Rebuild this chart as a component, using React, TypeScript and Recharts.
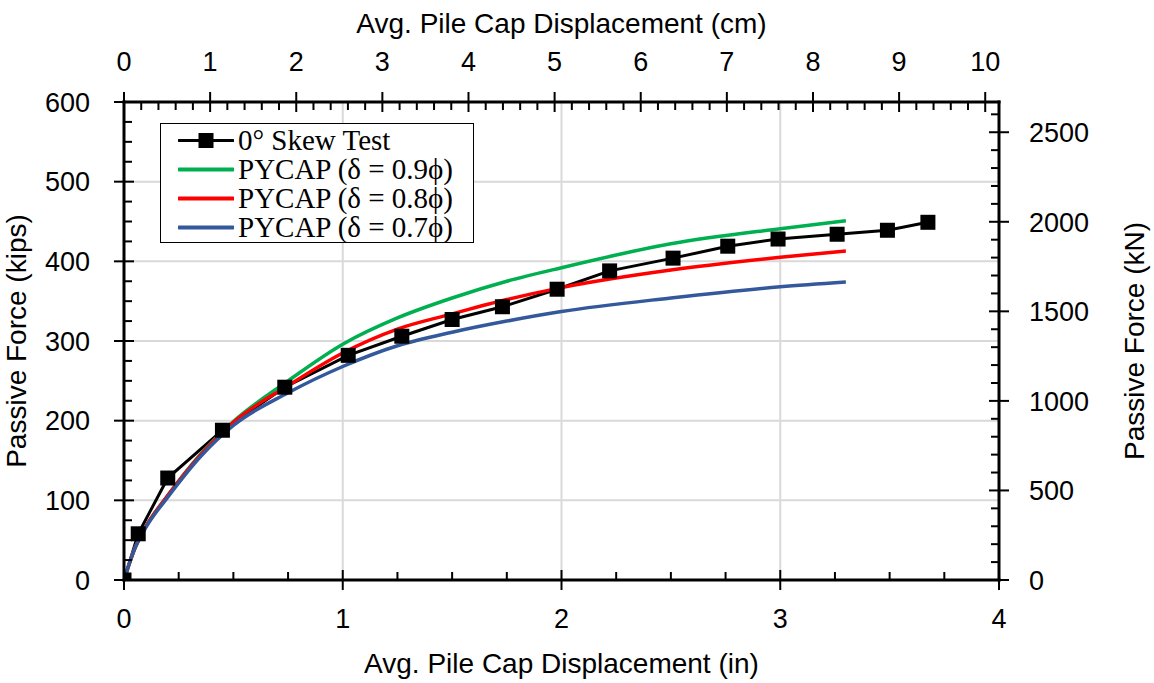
import React from "react";
import { LineChart, Line, XAxis, YAxis, CartesianGrid, Legend } from "recharts";

const IN_TO_CM = 2.54;
const KIPS_TO_KN = 4.448;

// 0° skew test, measured points (in, kips)
const testDisp = [0, 0.065, 0.2, 0.45, 0.735, 1.025, 1.27, 1.5, 1.73, 1.98, 2.22, 2.51, 2.76, 2.99, 3.26, 3.49, 3.675];
const testForce = [0, 58, 128, 188, 242, 282, 306, 327, 343, 365, 388, 404, 419, 428, 434, 439, 449];

// PYCAP predictions (in, kips)
const pycapDisp = [0, 0.05, 0.1, 0.2, 0.35, 0.5, 0.75, 1.0, 1.25, 1.5, 1.75, 2.0, 2.5, 3.0, 3.3];
const pycap09 = [0, 40, 67, 106, 158, 199, 250, 296, 329, 354, 375, 392, 422, 441, 451];
const pycap08 = [0, 40, 67, 106, 157, 198, 244, 285, 315, 334, 352, 367, 389, 405, 413];
const pycap07 = [0, 40, 66, 104, 155, 194, 235, 268, 294, 311, 325, 337, 354, 368, 374];

const seriesNames = ["0° Skew Test", "PYCAP (δ = 0.9ϕ)", "PYCAP (δ = 0.8ϕ)", "PYCAP (δ = 0.7ϕ)"];
const seriesColors = ["#000000", "#00B050", "#FF0000", "#34589C"];

// axis ticks (labels in each axis' own unit)
const inchMajor = [0, 1, 2, 3, 4];
const cmMajor = [0, 1, 2, 3, 4, 5, 6, 7, 8, 9, 10];
const kipsMajor = [0, 100, 200, 300, 400, 500, 600];
const kNMajor = [0, 500, 1000, 1500, 2000, 2500];

const steps = (step: number, max: number) => {
  const out: number[] = [];
  for (let i = 0; i * step <= max + 1e-9; i++) out.push(Math.round(i * step * 1000) / 1000);
  return out;
};
// secondary axes share the primary scale; their ticks are converted back to in / kips
const inchTicks = steps(0.25, 4);
const cmTicks = steps(0.2, 10).map((c) => c / IN_TO_CM);
const kipsTicks = steps(25, 600);
const kNTicks = steps(100, 2600).map((k) => k / KIPS_TO_KN);

const toPoints = (xs: number[], ys: number[]) => xs.map((x, i) => ({ x, y: ys[i] }));
const testData = toPoints(testDisp, testForce);
const data09 = toPoints(pycapDisp, pycap09);
const data08 = toPoints(pycapDisp, pycap08);
const data07 = toPoints(pycapDisp, pycap07);

const SANS = "'Liberation Sans', Arial, sans-serif";
const SERIF = "'Liberation Serif', 'Times New Roman', serif";
const MAJOR = 10;
const MINOR = 8;

const isIn = (list: number[], v: number) => list.some((m) => Math.abs(m - v) < 1e-4);

const makeTick = (side: "bottom" | "top" | "left" | "right", majors: number[], factor = 1) => (props: any) => {
  const { x, y, payload, index } = props;
  const v = payload.value * factor;
  const major = isIn(majors, v);
  const text = Math.round(v);
  let line: [number, number, number, number];
  let label: React.ReactNode = null;
  const txt = { fontFamily: SANS, fontSize: 27, fill: "#000" };
  if (side === "bottom") {
    line = major ? [x, y - MAJOR, x, y + MAJOR] : [x, y - MINOR, x, y];
    if (major) label = <text x={x} y={y + 48} textAnchor="middle" {...txt}>{text}</text>;
  } else if (side === "top") {
    line = major ? [x, y - MAJOR, x, y + MAJOR] : [x, y, x, y + MINOR];
    if (major) label = <text x={x} y={y - 31} textAnchor="middle" {...txt}>{text}</text>;
  } else if (side === "left") {
    line = major ? [x - MAJOR, y, x + MAJOR, y] : [x, y, x + MINOR, y];
    if (major) label = <text x={x - 34} y={y} dy="0.36em" textAnchor="end" {...txt}>{text}</text>;
  } else {
    line = major ? [x - MAJOR, y, x + MAJOR, y] : [x - MINOR, y, x, y];
    if (major) label = <text x={x + 30} y={y} dy="0.36em" textAnchor="start" {...txt}>{text}</text>;
  }
  return (
    <g key={`t-${side}-${index}`}>
      <line x1={line[0]} y1={line[1]} x2={line[2]} y2={line[3]} stroke="#000" strokeWidth={2} />
      {label}
    </g>
  );
};

const SquareDot = (p: any) => (
  <rect key={`d-${p.index}`} x={p.cx - 7.5} y={p.cy - 7.5} width={15} height={15} fill="#000" />
);

const LegendBox = () => (
  <div
    style={{
      width: 314,
      height: 120,
      boxSizing: "border-box",
      border: "1.5px solid #000",
      background: "#fff",
      paddingTop: 2,
      fontFamily: SERIF,
      fontSize: 29,
      color: "#000",
    }}
  >
    {seriesNames.map((name, i) => (
      <div key={name} style={{ display: "flex", alignItems: "center", height: 29 }}>
        <svg width={56} height={29} style={{ marginLeft: 17, flex: "none" }}>
          <line x1={1} y1={14.5} x2={55} y2={14.5} stroke={seriesColors[i]} strokeWidth={i === 0 ? 3 : 4} strokeLinecap="round" />
          {i === 0 && <rect x={20.5} y={7} width={15} height={15} fill="#000" />}
        </svg>
        <span style={{ marginLeft: 4, whiteSpace: "nowrap", lineHeight: "29px" }}>{name}</span>
      </div>
    ))}
  </div>
);

const axisLine = { stroke: "#000", strokeWidth: 3, strokeLinecap: "square" as const };
const titleStyle = { fontFamily: SANS, fontSize: 28, fill: "#000" };

export default function App() {
  return (
    <div style={{ position: "absolute", left: 0, top: 0, background: "#fff" }}>
      <LineChart width={1154} height={683} margin={{ top: 0, right: 0, bottom: 0, left: 0 }}>
        <CartesianGrid
          stroke="#D9D9D9"
          strokeWidth={2}
          horizontalValues={[100, 200, 300, 400, 500]}
          verticalValues={[1, 2, 3]}
        />
        <XAxis
          dataKey="x"
          type="number"
          domain={[0, 4]}
          allowDataOverflow
          ticks={inchTicks}
          interval={0}
          height={103}
          tickSize={0}
          tickMargin={0}
          tickLine={false}
          axisLine={axisLine}
          tick={makeTick("bottom", inchMajor)}
          label={{ value: "Avg. Pile Cap Displacement (in)", position: "insideBottom", offset: 10, style: titleStyle }}
        />
        <XAxis
          xAxisId="top"
          dataKey="x"
          orientation="top"
          type="number"
          domain={[0, 4]}
          allowDataOverflow
          ticks={cmTicks}
          interval={0}
          height={102}
          tickSize={0}
          tickMargin={0}
          tickLine={false}
          axisLine={axisLine}
          tick={makeTick("top", cmMajor, IN_TO_CM)}
          label={{ value: "Avg. Pile Cap Displacement (cm)", position: "insideTop", offset: 13, style: titleStyle }}
        />
        <YAxis
          type="number"
          domain={[0, 600]}
          allowDataOverflow
          ticks={kipsTicks}
          interval={0}
          width={124}
          tickSize={0}
          tickMargin={0}
          tickLine={false}
          axisLine={axisLine}
          tick={makeTick("left", kipsMajor)}
          label={{
            value: "Passive Force (kips)",
            position: "insideLeft",
            angle: -90,
            offset: 16,
            style: { ...titleStyle, textAnchor: "middle" },
          }}
        />
        <YAxis
          yAxisId="right"
          orientation="right"
          type="number"
          domain={[0, 600]}
          allowDataOverflow
          ticks={kNTicks}
          interval={0}
          width={155}
          tickSize={0}
          tickMargin={0}
          tickLine={false}
          axisLine={axisLine}
          tick={makeTick("right", kNMajor, KIPS_TO_KN)}
          label={{
            value: "Passive Force (kN)",
            position: "insideRight",
            angle: -90,
            offset: 20,
            style: { ...titleStyle, textAnchor: "middle" },
          }}
        />
        <Legend
          layout="vertical"
          align="center"
          verticalAlign="middle"
          content={() => <LegendBox />}
          wrapperStyle={{ left: 160, top: 123, width: 314, height: 120 }}
        />
        <Line
          data={testData}
          dataKey="y"
          name={seriesNames[0]}
          type="linear"
          stroke={seriesColors[0]}
          strokeWidth={3}
          dot={SquareDot}
          activeDot={false}
          isAnimationActive={false}
        />
        <Line
          data={data09}
          dataKey="y"
          name={seriesNames[1]}
          type="monotone"
          stroke={seriesColors[1]}
          strokeWidth={3.5}
          dot={false}
          activeDot={false}
          isAnimationActive={false}
        />
        <Line
          data={data08}
          dataKey="y"
          name={seriesNames[2]}
          type="monotone"
          stroke={seriesColors[2]}
          strokeWidth={3.5}
          dot={false}
          activeDot={false}
          isAnimationActive={false}
        />
        <Line
          data={data07}
          xAxisId="top"
          yAxisId="right"
          dataKey="y"
          name={seriesNames[3]}
          type="monotone"
          stroke={seriesColors[3]}
          strokeWidth={3.5}
          dot={false}
          activeDot={false}
          isAnimationActive={false}
        />
      </LineChart>
    </div>
  );
}
